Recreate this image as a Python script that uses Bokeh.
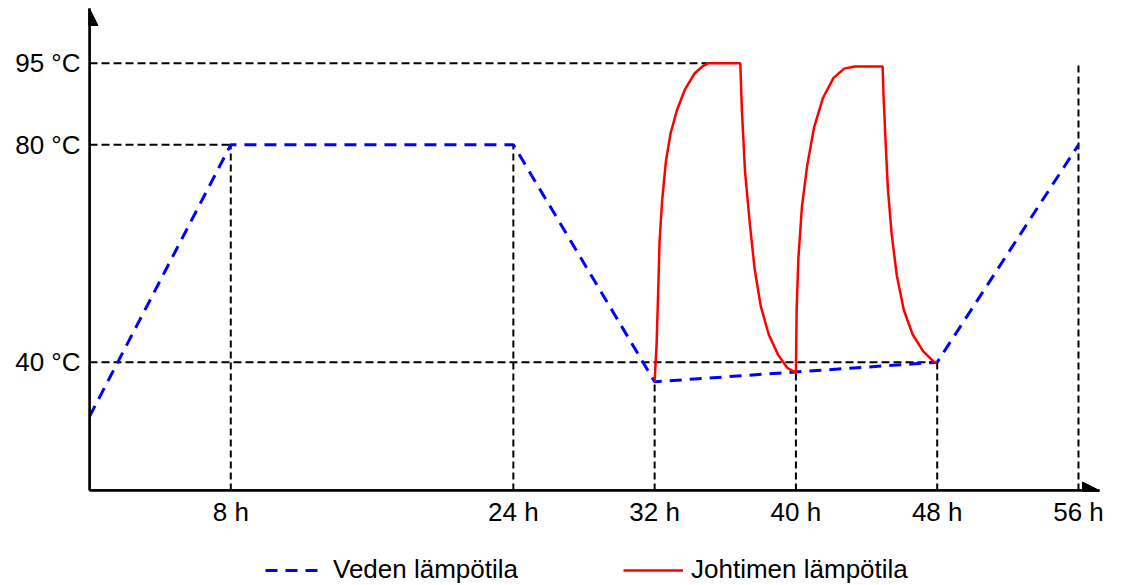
from bokeh.plotting import figure
from bokeh.models import Range1d, FixedTicker, Arrow, NormalHead, Legend, LegendItem
from bokeh.layouts import column
from bokeh.embed import file_html
from bokeh.resources import INLINE

# ---- data ----
x_ticks = [8, 24, 32, 40, 48, 56]
x_tick_labels = ["8 h", "24 h", "32 h", "40 h", "48 h", "56 h"]
y_ticks = [40, 80, 95]
y_tick_labels = ["40 °C", "80 °C", "95 °C"]

hours_water = [0, 8, 24, 32, 48, 56]
temp_water = [30, 80, 80, 36.4, 40, 80]

hours_cond = [32.0, 32.11, 32.2, 32.28, 32.43, 32.64, 32.91, 33.27, 33.72, 34.26, 34.7, 35.06,
              36.85, 36.94, 37.12, 37.39, 37.66, 38.01, 38.46, 39.0, 39.53, 40.0,
              40.04, 40.14, 40.34, 40.64, 41.03, 41.53, 42.13, 42.73, 43.33, 44.91,
              44.96, 45.07, 45.21, 45.42, 45.71, 46.11, 46.61, 47.21, 47.8, 48.0]
temp_cond = [36.4, 43.2, 52.8, 62.3, 69.9, 77.0, 82.2, 86.4, 90.2, 93.1, 94.4, 95.0,
             95.0, 86.4, 75.0, 65.5, 57.2, 50.3, 45.1, 41.3, 38.9, 38.1,
             49.6, 59.1, 68.6, 76.2, 83.2, 88.6, 92.3, 94.0, 94.4, 94.4,
             89.1, 81.1, 71.8, 63.6, 56.0, 49.6, 45.1, 42.0, 40.1, 40.0]

# reference guide lines
guide_h_temps = [95, 80, 40]
guide_h_end_hours = [35.06, 8, 48]
guide_v_hours = [8, 24, 32, 40, 48, 56]
guide_v_top_temps = [80, 80, 36.4, 38.1, 40, 95]

X_MIN, X_MAX = 0, 57.19
Y_MIN, Y_MAX = 16.4, 105.06

FONT = "Liberation Sans"

p = figure(width=1124, height=529, output_backend="svg", toolbar_location=None,
           x_range=Range1d(X_MIN, X_MAX), y_range=Range1d(Y_MIN, Y_MAX))
p.min_border_left = 89
p.min_border_right = 25
p.min_border_top = 8
p.min_border_bottom = 36
p.outline_line_color = None
p.xgrid.visible = False
p.ygrid.visible = False
p.background_fill_color = "white"
p.border_fill_color = "white"

for ax in (p.xaxis[0], p.yaxis[0]):
    ax.axis_line_width = 2.5
    ax.axis_line_color = "black"
    ax.major_tick_line_color = None
    ax.minor_tick_line_color = None
    ax.major_tick_out = 0
    ax.major_tick_in = 0
    ax.major_label_text_font = FONT
    ax.major_label_text_font_size = "26px"
    ax.major_label_text_color = "black"

p.xaxis.ticker = FixedTicker(ticks=x_ticks)
p.xaxis.major_label_overrides = dict(zip(x_ticks, x_tick_labels))
p.xaxis.major_label_standoff = 6
p.yaxis.ticker = FixedTicker(ticks=y_ticks)
p.yaxis.major_label_overrides = dict(zip(y_ticks, y_tick_labels))
p.yaxis.major_label_standoff = 9

# guide lines
p.segment(x0=[X_MIN] * len(guide_h_temps), y0=guide_h_temps, x1=guide_h_end_hours, y1=guide_h_temps,
          line_color="black", line_width=2, line_dash="8 4")
p.segment(x0=guide_v_hours, y0=[Y_MIN] * len(guide_v_hours), x1=guide_v_hours, y1=guide_v_top_temps,
          line_color="black", line_width=2, line_dash="7 4")

WATER_STYLE = dict(line_color="#0000ff", line_width=3, line_dash="12 8")
COND_STYLE = dict(line_color="#ff0000", line_width=2.5)

p.line(hours_water, temp_water, **WATER_STYLE)
p.line(hours_cond, temp_cond, **COND_STYLE)

# axis arrows
p.add_layout(Arrow(end=NormalHead(size=17, fill_color="black", line_color="black"),
                   x_start=X_MIN, y_start=Y_MIN, x_end=X_MIN, y_end=Y_MAX,
                   line_width=2.5, line_color="black"))
p.add_layout(Arrow(end=NormalHead(size=17, fill_color="black", line_color="black"),
                   x_start=X_MIN, y_start=Y_MIN, x_end=X_MAX, y_end=Y_MIN,
                   line_width=2.5, line_color="black"))

# legend strip below the chart (same series, outside its visible range)
p2 = figure(width=1124, height=56, output_backend="svg", toolbar_location=None,
            x_range=Range1d(X_MIN, X_MAX), y_range=Range1d(0, 1),
            x_axis_location=None, y_axis_location=None)
p2.min_border_left = 89
p2.min_border_right = 25
p2.min_border_top = 0
p2.min_border_bottom = 0
p2.outline_line_color = None
p2.grid.visible = False
lw = p2.line(hours_water, temp_water, **WATER_STYLE)
lc = p2.line(hours_cond, temp_cond, **COND_STYLE)

legend = Legend(items=[LegendItem(label="Veden lämpötila", renderers=[lw]),
                       LegendItem(label="Johtimen lämpötila", renderers=[lc])],
                orientation="horizontal", location=(176, 0),
                glyph_width=60, label_standoff=8, spacing=105, padding=0, margin=0,
                label_text_font=FONT, label_text_font_size="26px", label_text_color="black",
                border_line_color=None, background_fill_alpha=0)
p2.add_layout(legend, "center")

open("out.html", "w").write(file_html(column(p, p2, spacing=0), INLINE))
